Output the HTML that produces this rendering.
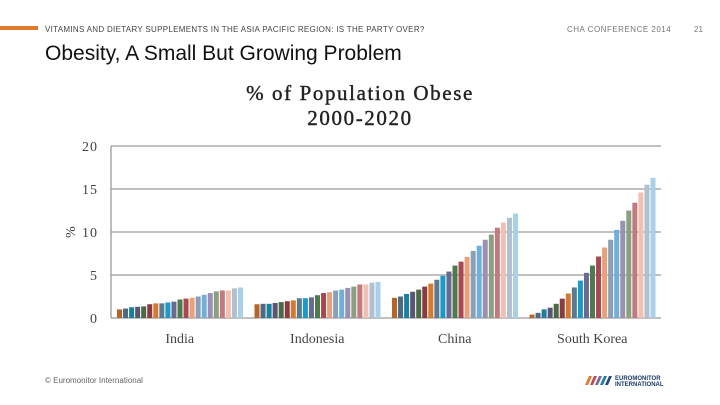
<!DOCTYPE html>
<html><head><meta charset="utf-8"><style>
body{margin:0;width:720px;height:405px;background:#fff;position:relative;overflow:hidden;font-family:"Liberation Sans",sans-serif}
.a{position:absolute;white-space:nowrap}
</style></head><body>
<div class="a" style="left:0;top:26px;width:38px;height:4px;background:#e07b2a"></div>
<div class="a" style="left:45px;top:25px;font-size:8px;color:#444;letter-spacing:.3px">VITAMINS AND DIETARY SUPPLEMENTS IN THE ASIA PACIFIC REGION: IS THE PARTY OVER?</div>
<div class="a" style="left:567px;top:25px;font-size:8px;color:#777;letter-spacing:.5px">CHA CONFERENCE 2014</div>
<div class="a" style="left:694px;top:25px;font-size:8px;color:#777">21</div>
<div class="a" style="left:45px;top:42px;font-size:21px;color:#111">Obesity, A Small But Growing Problem</div>
<div class="a" style="left:0;width:720px;text-align:center;top:81px;font-family:'Liberation Serif',serif;font-size:21px;line-height:25px;color:#222;letter-spacing:1.6px;-webkit-text-stroke:0.4px #222">% of Population Obese<br>2000-2020</div>
<div class="a" style="left:45px;top:376px;font-size:8px;color:#666">© Euromonitor International</div>
<div class="a" style="left:583px;top:373px;width:100px;height:12px">
<svg width="100" height="12"><polygon points="2,11 6,2 9,2 5,11" fill="#e07b2a"/><polygon points="7,11 11,2 14,2 10,11" fill="#c04a50"/><polygon points="12,11 16,2 19,2 15,11" fill="#7a6aa0"/><polygon points="17,11 21,2 24,2 20,11" fill="#1a7fa0"/><polygon points="22,11 26,2 29,2 25,11" fill="#2a4a7a"/>
<text x="32" y="6" font-size="6" font-weight="bold" fill="#1a3a6a" font-family="Liberation Sans">EUROMONITOR</text><text x="32" y="12" font-size="6" font-weight="bold" fill="#1a3a6a" font-family="Liberation Sans">INTERNATIONAL</text></svg></div>
<svg id="chart" class="a" style="left:0;top:0" width="720" height="405"></svg>
<script>
const categories=["India","Indonesia","China","South Korea"];
const india=[1.0,1.1,1.25,1.3,1.35,1.6,1.7,1.7,1.8,1.9,2.15,2.25,2.35,2.5,2.7,2.9,3.1,3.2,3.2,3.45,3.55];
const indonesia=[1.6,1.65,1.65,1.75,1.85,1.95,2.05,2.3,2.3,2.4,2.65,2.9,3.0,3.2,3.3,3.5,3.65,3.9,3.9,4.1,4.2];
const china=[2.35,2.5,2.8,3.05,3.3,3.65,4.0,4.45,4.9,5.4,6.1,6.55,7.1,7.8,8.4,9.1,9.7,10.5,11.1,11.65,12.15];
const southKorea=[0.4,0.6,1.0,1.2,1.65,2.25,2.85,3.55,4.35,5.25,6.1,7.15,8.2,9.1,10.25,11.3,12.5,13.4,14.6,15.5,16.3];
const yTicks=[0,5,10,15,20];
const colors=["#b5652a","#4e6a80","#1a7fa0","#5a5570","#4a6a45","#8b3a42","#d27a30","#5a7a90","#1a9ac8","#6a6a90","#4e7a4e","#a84850","#e8a07a","#8aa0b8","#70b0d8","#9a90b0","#8aa080","#c07a80","#f0c0b0","#b0c0d0","#a8d0e8"];
const series=[india,indonesia,china,southKorea];
const NS="http://www.w3.org/2000/svg",svg=document.getElementById('chart');
const x0=111,x1=661,y0=318,yTop=146,ymax=20;
const y=v=>y0-(v/ymax)*(y0-yTop);
const bw=(x1-x0)/categories.length;
function mk(t,a){const e=document.createElementNS(NS,t);for(const k in a)e.setAttribute(k,a[k]);svg.appendChild(e);return e;}
yTicks.forEach(t=>{
 const l=mk('line',{x1:x0,x2:x1,y1:y(t),y2:y(t),stroke:'#9a9a9a','stroke-width':1.3});
 
 
 const tx=mk('text',{x:98,y:y(t)+5,'text-anchor':'end','font-size':14,fill:'#444','font-family':'Liberation Serif, serif','letter-spacing':1});
 tx.textContent=t;
 
 
});
const ax=mk('line',{x1:x0,x2:x0,y1:yTop,y2:y0,stroke:'#9a9a9a','stroke-width':1.3});


const yt=mk('text',{x:0,y:0,transform:'translate(75,232) rotate(-90)','text-anchor':'middle','font-size':14,fill:'#333','font-family':'Liberation Serif, serif'});
yt.textContent='%';


const pitch=6.05,barW=5;
categories.forEach((c,i)=>{
 const gx=x0+i*bw+6;
 series[i].forEach((v,j)=>{
  const r=mk('rect',{x:gx+j*pitch,y:y(v),width:barW,height:y0-y(v),fill:colors[j%colors.length]});
  
  
 });
 const t=mk('text',{x:x0+(i+0.5)*bw,y:343,'text-anchor':'middle','font-size':14,fill:'#444','font-family':'Liberation Serif, serif'});
 t.textContent=c;
 
 
});
</script>
</body></html>
